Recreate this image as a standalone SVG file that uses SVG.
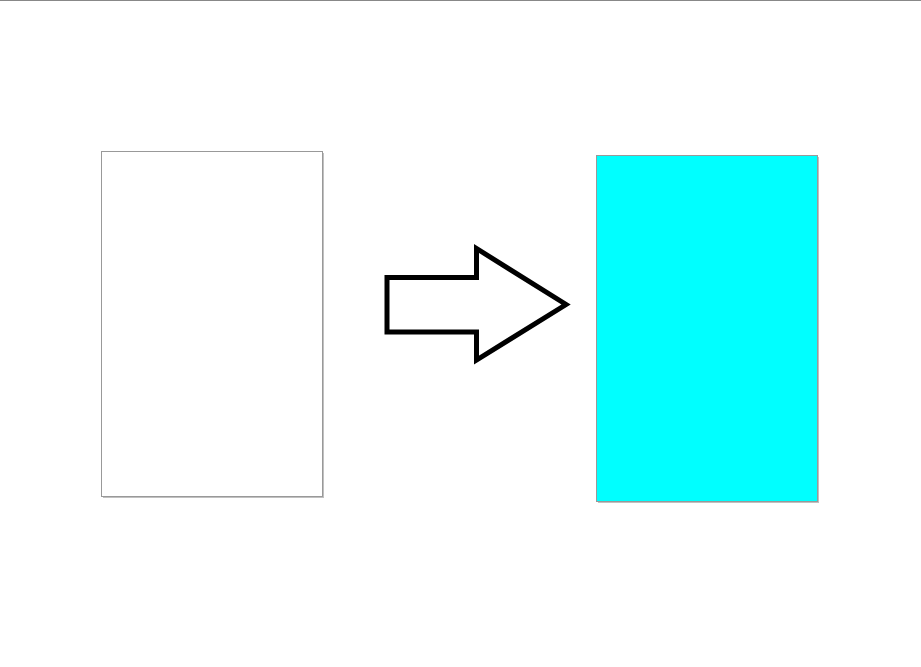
<svg xmlns="http://www.w3.org/2000/svg" width="921" height="667" viewBox="0 0 921 667">
<defs>
<style>
.page{stroke:#999;stroke-width:1}
.shadow{fill:#c0c0c0}
.arrow{fill:#fff;stroke:#000;stroke-width:5;stroke-linejoin:miter}
</style>
</defs>
<rect x="0" y="0" width="921" height="667" fill="#fff"/>
<line x1="0" y1="0.5" x2="921" y2="0.5" stroke="#888" stroke-width="1"/>
<g id="page-blank">
<rect class="shadow" x="103" y="153" width="221" height="345"/>
<rect class="page" x="101.5" y="151.5" width="221" height="345" fill="#fff"/>
</g>
<g id="page-cyan">
<rect class="shadow" x="598" y="157" width="221" height="346"/>
<rect class="page" x="596.5" y="155.5" width="221" height="346" fill="#00ffff"/>
</g>
<g id="connectors">
<polygon class="arrow" points="387,277.5 476.5,277.5 476.5,248.5 566,304.5 476.5,360 476.5,332 387,332"/>
</g>
</svg>
